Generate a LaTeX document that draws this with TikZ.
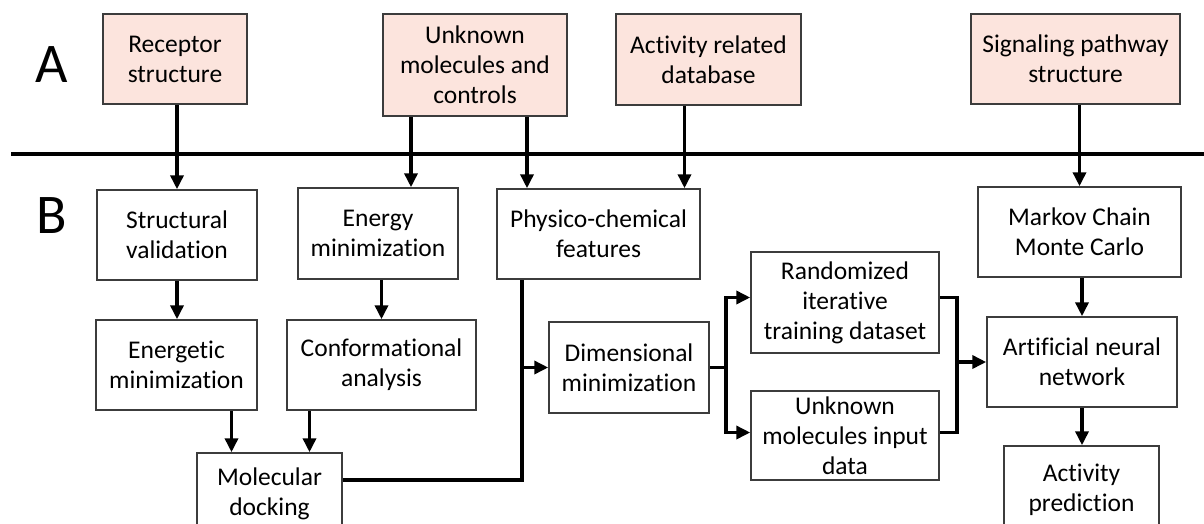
\documentclass[tikz,border=0pt]{standalone}
\usepackage{fontspec}
\setmainfont{Carlito}[Ligatures=NoCommon]
\usetikzlibrary{positioning,arrows.meta}
\usepackage{xcolor}
\definecolor{rose}{RGB}{252,228,221}
\definecolor{edge}{RGB}{60,60,60}

\begin{document}
\begin{tikzpicture}[x=1pt,y=-1pt,
    f/.style={-{Triangle[length=14pt,width=13pt]},line width=3.6pt},%
    ln/.style={line width=3.6pt},%
    s/.style={draw=edge,line width=1.5pt,align=center,inner sep=0pt,font=\fontsize{25.5}{30}\selectfont},%
    src/.style={s,fill=rose},%
    lbl/.style={font=\fontsize{56}{56}\selectfont}]
    \useasboundingbox (0,0) rectangle (1204,523);
    \clip (0,0) rectangle (1204,523);
    \node[lbl] (la) at (52,65) {A};
    \node[lbl] (lb) at (52,216) {B};
    \draw[ln] (11,154) -- (1204,154);

    % sources
    \node[src,minimum width=144pt,minimum height=90pt] (rec) at (175,59) {Receptor\\structure};
    \node[src,minimum width=184pt,minimum height=102pt] (unk) at (475,65) {Unknown\\molecules and\\controls};
    \node[src,minimum width=185pt,minimum height=91pt] (act) at (708.5,59.5) {Activity related\\database};
    \node[src,minimum width=209pt,minimum height=90pt] (sig) at (1075.5,59) {Signaling pathway\\structure};

    % steps
    \node[s,minimum width=160pt,minimum height=90pt] (sv) at (177,235) {Structural\\validation};
    \node[s,minimum width=160pt,minimum height=91pt] (em) at (378,233.5) {Energy\\minimization};
    \node[s,minimum width=203pt,minimum height=90pt] (pc) at (598.5,234) {Physico-chemical\\features};
    \node[s,minimum width=203pt,minimum height=90pt] (mc) at (1079.5,232) {Markov Chain\\Monte Carlo};
    \node[s,minimum width=161pt,minimum height=90pt] (eg) at (176.5,365) {Energetic\\minimization};
    \node[s,minimum width=189pt,minimum height=90pt] (ca) at (381.5,365) {Conformational\\analysis};
    \node[s,minimum width=145pt,minimum height=82pt] (md) at (269.5,494) {Molecular\\docking};
    \node[s,minimum width=160pt,minimum height=91pt] (dm) at (629,367.5) {Dimensional\\minimization};
    \node[s,minimum width=188pt,minimum height=101pt] (rt) at (845,302.5) {Randomized\\iterative\\training dataset};
    \node[s,minimum width=188pt,minimum height=89pt] (ui) at (845,435.5) {Unknown\\molecules input\\data};
    \node[s,minimum width=190pt,minimum height=90pt] (ann) at (1082,362) {Artificial neural\\network};
    \node[s,minimum width=155pt,minimum height=88pt] (ap) at (1081.5,490) {Activity\\prediction};

    % from A to B
    \coordinate (u1) at ([xshift=-64pt]unk.south);
    \coordinate (u2) at ([xshift=52pt]unk.south);
    \coordinate (a1) at ([xshift=-24pt]act.south);
    \draw[f] (sv.north |- rec.south) -- (sv.north);
    \draw[f] (u1) -- (u1 |- em.north);
    \draw[f] (u2) -- (u2 |- pc.north);
    \draw[f] (a1) -- (a1 |- pc.north);
    \draw[f] (mc.north |- sig.south) -- (mc.north);

    % docking branch
    \coordinate (d1) at ([xshift=-38pt]md.north);
    \coordinate (d2) at ([xshift=40pt]md.north);
    \draw[f] (sv.south) -- (sv.south |- eg.north);
    \draw[f] (ca.north |- em.south) -- (ca.north);
    \draw[f] (d1 |- eg.south) -- (d1);
    \draw[f] (d2 |- ca.south) -- (d2);
    \coordinate (pv) at ([xshift=26pt]pc.south west);
    \draw[ln] (pv) |- ([yshift=14pt]md.east);
    \draw[f] (pv |- dm.west) -- (dm.west);

    % split and join
    \coordinate (br) at ([xshift=16pt]dm.east);
    \draw[ln] (dm.east) -- (br);
    \draw[f] (br) |- ([yshift=5pt]rt.west);
    \draw[f] (br) |- ([yshift=3pt]ui.west);
    \coordinate (jn) at ([xshift=17pt,yshift=5pt]rt.east);
    \draw[ln] ([yshift=5pt]rt.east) -- (jn) |- ([yshift=3pt]ui.east);
    \draw[f] (jn |- ann.west) -- (ann.west);
    \draw[f] (ann.north |- mc.south) -- (ann.north);
    \draw[f] (ann.south) -- (ann.south |- ap.north);
\end{tikzpicture}
\end{document}
